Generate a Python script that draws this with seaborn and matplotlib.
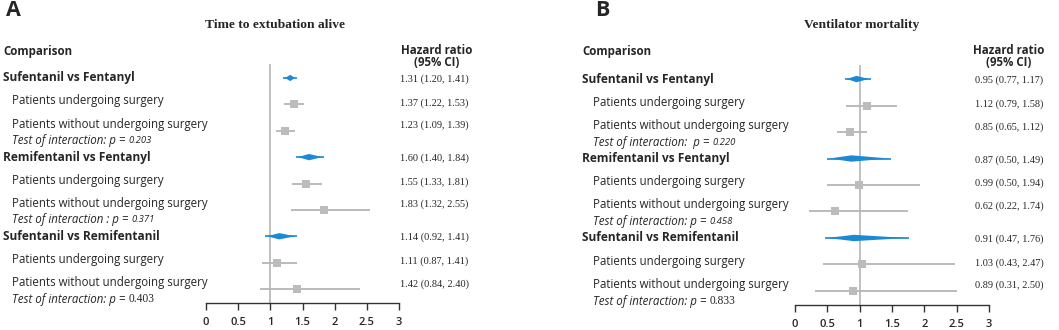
import matplotlib
matplotlib.use("Agg")
import matplotlib.pyplot as plt
import matplotlib.transforms as mtransforms
import numpy as np
import pandas as pd
import seaborn as sns

# ── Data ────────────────────────────────────────────────────────────────────────
comparisons = ["Sufentanil vs Fentanyl", "Remifentanil vs Fentanyl", "Sufentanil vs Remifentanil"]
subgroups = ["Patients undergoing surgery", "Patients without undergoing surgery"]

# panel A: time to extubation alive
a_all_hr = [1.31, 1.60, 1.14]
a_all_lo = [1.20, 1.40, 0.92]
a_all_hi = [1.41, 1.84, 1.41]
a_surg_hr = [1.37, 1.55, 1.11]
a_surg_lo = [1.22, 1.33, 0.87]
a_surg_hi = [1.53, 1.81, 1.41]
a_nosurg_hr = [1.23, 1.83, 1.42]
a_nosurg_lo = [1.09, 1.32, 0.84]
a_nosurg_hi = [1.39, 2.55, 2.40]
a_p_prefix = ["Test of interaction: p = ", "Test of interaction : p = ", "Test of interaction: p = "]
a_p_value = ["0.203", "0.371", "0.403"]

# panel B: ventilator mortality
b_all_hr = [0.95, 0.87, 0.91]
b_all_lo = [0.77, 0.50, 0.47]
b_all_hi = [1.17, 1.49, 1.76]
b_surg_hr = [1.12, 0.99, 1.03]
b_surg_lo = [0.79, 0.50, 0.43]
b_surg_hi = [1.58, 1.94, 2.47]
b_nosurg_hr = [0.85, 0.62, 0.89]
b_nosurg_lo = [0.65, 0.22, 0.31]
b_nosurg_hi = [1.12, 1.74, 2.50]
b_p_prefix = ["Test of interaction:  p = ", "Test of interaction: p = ", "Test of interaction: p = "]
b_p_value = ["0.220", "0.458", "0.833"]

x_ticks = [0, 0.5, 1, 1.5, 2, 2.5, 3]
x_ticklabels = ["0", "0.5", "1", "1.5", "2", "2.5", "3"]

# ── Style ───────────────────────────────────────────────────────────────────────
W, H = 1059, 330
BLUE = "#1a8ad4"
GRAY = "#bcbcbc"
LINE_GRAY = "#b5b5b5"
SANS = "Open Sans"
SERIF = "Liberation Serif"

sns.set_style("white")
plt.rcParams["font.family"] = [SANS, "DejaVu Sans"]


def build_frame(all_hr, all_lo, all_hi, s_hr, s_lo, s_hi, n_hr, n_lo, n_hi):
    rows = []
    for k, comp in enumerate(comparisons):
        rows.append(dict(comp=comp, label=comp, kind="overall", row=3 * k,
                         hr=all_hr[k], lo=all_lo[k], hi=all_hi[k]))
        rows.append(dict(comp=comp, label=subgroups[0], kind="sub", row=3 * k + 1,
                         hr=s_hr[k], lo=s_lo[k], hi=s_hi[k]))
        rows.append(dict(comp=comp, label=subgroups[1], kind="sub", row=3 * k + 2,
                         hr=n_hr[k], lo=n_lo[k], hi=n_hi[k]))
    return pd.DataFrame(rows)


panels = [
    dict(letter="A", title="Time to extubation alive",
         df=build_frame(a_all_hr, a_all_lo, a_all_hi, a_surg_hr, a_surg_lo, a_surg_hi,
                        a_nosurg_hr, a_nosurg_lo, a_nosurg_hi),
         p_prefix=a_p_prefix, p_value=a_p_value,
         rect=(206, 303, 399, 64), letter_x=13, title_x=275,
         bold_x=3, indent_x=12, hr_x=400, head_x=437),
    dict(letter="B", title="Ventilator mortality",
         df=build_frame(b_all_hr, b_all_lo, b_all_hi, b_surg_hr, b_surg_lo, b_surg_hi,
                        b_nosurg_hr, b_nosurg_lo, b_nosurg_hi),
         p_prefix=b_p_prefix, p_value=b_p_value,
         rect=(795, 305, 989, 65), letter_x=602, title_x=862,
         bold_x=582, indent_x=593, hr_x=975, head_x=1009),
]

# label offsets (in row units) relative to each comparison header row
label_off = {"overall": 0.0, "sub1": 0.87, "sub2": 1.75, "test": 2.38}
hr_off = [0.05, 0.95, 1.8]

fig = plt.figure(figsize=(W / 100, H / 100), dpi=100)


def fx(px):
    return px / W


def fy(py):
    return 1 - py / H


for p in panels:
    x0, y0, x1, y1 = p["rect"]
    ax = fig.add_axes([fx(x0), fy(y0), fx(x1) - fx(x0), (y0 - y1) / H])
    df = p["df"]
    sub = df[df["kind"] == "sub"]
    ov = df[df["kind"] == "overall"]

    ax.axvline(1, color=LINE_GRAY, lw=1.2, zorder=0)

    # subgroup estimates: grey CI lines + squares
    ax.hlines(sub["row"], sub["lo"], sub["hi"], color=LINE_GRAY, lw=1.3, zorder=1)
    sns.scatterplot(data=sub, x="hr", y="row", marker="s", s=26, color=GRAY,
                    linewidth=0, ax=ax, zorder=2)

    # pooled estimates: blue diamonds spanning the CI
    ax.hlines(ov["row"], ov["lo"], ov["hi"], color=BLUE, lw=1.2, zorder=2)
    for _, r in ov.iterrows():
        h = 0.12
        ax.fill([r["lo"] + 0.03, r["hr"], r["hi"] - 0.03, r["hr"]],
                [r["row"], r["row"] - h, r["row"], r["row"] + h],
                color=BLUE, lw=0, zorder=3)

    ax.set_xlim(0, 3)
    ax.set_ylim(8.53, -0.53)
    ax.set_xticks(x_ticks)
    ax.set_xticklabels(x_ticklabels)
    ax.set_yticks([])
    ax.set_xlabel("")
    ax.set_ylabel("")
    ax.patch.set_alpha(0)
    sns.despine(ax=ax, left=True)
    ax.spines["bottom"].set_color("#333333")
    ax.spines["bottom"].set_linewidth(1.0)
    ax.tick_params(axis="x", direction="out", length=5, width=1, color="#333333",
                   pad=5, labelsize=8, bottom=True)
    for t in ax.get_xticklabels():
        t.set_fontweight("semibold")

    # text columns: x in figure pixels, y in row units
    tr = mtransforms.blended_transform_factory(fig.transFigure, ax.transData)
    for k, comp in enumerate(comparisons):
        base = 3 * k
        ax.text(fx(p["bold_x"]), base + label_off["overall"], comp, transform=tr,
                ha="left", va="center", fontsize=8.6, fontweight="bold")
        ax.text(fx(p["indent_x"]), base + label_off["sub1"], subgroups[0], transform=tr,
                ha="left", va="center", fontsize=8.3)
        ax.text(fx(p["indent_x"]), base + label_off["sub2"], subgroups[1], transform=tr,
                ha="left", va="center", fontsize=8.3)
        t = ax.text(fx(p["indent_x"]), base + label_off["test"], p["p_prefix"][k],
                    transform=tr, ha="left", va="center", fontsize=8.3, style="italic")
        last = k == len(comparisons) - 1
        ax.annotate(p["p_value"][k], xy=(1, 0.5), xycoords=t, ha="left", va="center",
                    fontsize=8.3 if last else 6.8, style="normal" if last else "italic",
                    family=SERIF if last else [SANS])

        grp = df[df["comp"] == comp].reset_index(drop=True)
        for j, r in grp.iterrows():
            ax.text(fx(p["hr_x"]), base + hr_off[j],
                    f"{r['hr']:.2f} ({r['lo']:.2f}, {r['hi']:.2f})", transform=tr,
                    ha="left", va="center", fontsize=7.4, family=SERIF)

    # headers
    fig.text(fx(p["letter_x"]), fy(11), p["letter"], ha="center", va="center",
             fontsize=15.5, fontweight="bold")
    fig.text(fx(p["title_x"]), fy(25), p["title"], ha="center", va="center",
             fontsize=9.7, fontweight="bold", family=SERIF)
    fig.text(fx(p["bold_x"]), fy(51), "Comparison", ha="left", va="center",
             fontsize=8.3, fontweight="bold")
    fig.text(fx(p["head_x"]), fy(50), "Hazard ratio", ha="center", va="center",
             fontsize=8.3, fontweight="bold")
    fig.text(fx(p["head_x"]), fy(63), "(95% CI)", ha="center", va="center",
             fontsize=8.3, fontweight="bold")

fig.savefig("out.png", dpi=100, facecolor="white")
